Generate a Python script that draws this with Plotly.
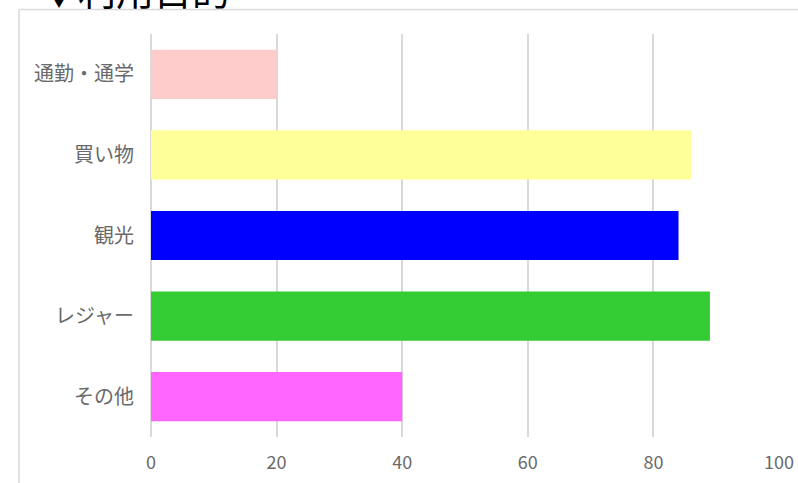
import plotly.graph_objects as go

# Purpose-of-use survey results
categories = ["通勤・通学", "買い物", "観光", "レジャー", "その他"]
values = [20, 86, 84, 89, 40]
bar_colors = ["#FFCCCC", "#FFFF99", "#0000FF", "#33CC33", "#FF66FF"]
x_ticks = [0, 20, 40, 60, 80, 100]

W, H = 798, 483
L, R, T, B = 151, 19, 34, 46
pw, ph = W - L - R, H - T - B


def px_x(px):
    return (px - L) / pw


def px_y(py):
    return (H - B - py) / ph


FONT = "Noto Sans CJK JP, Noto Sans, sans-serif"
GRID = "#D9D9D9"
TEXT = "#6A6A6A"

fig = go.Figure(
    go.Bar(
        x=values,
        y=categories,
        orientation="h",
        marker=dict(color=bar_colors, line=dict(width=0)),
        hoverinfo="x+y",
    )
)

fig.update_layout(
    width=W,
    height=H,
    margin=dict(l=L, r=R, t=T, b=B, autoexpand=False),
    paper_bgcolor="white",
    plot_bgcolor="white",
    showlegend=False,
    bargap=0.39,
    font=dict(family=FONT, color=TEXT),
    xaxis=dict(
        range=[0, 100],
        tickvals=x_ticks,
        automargin=False,
        showgrid=True,
        gridcolor=GRID,
        gridwidth=1.5,
        zeroline=True,
        zerolinecolor=GRID,
        zerolinewidth=1.5,
        showline=False,
        ticks="",
        ticklabelstandoff=13,
        tickfont=dict(size=18, color=TEXT, family=FONT),
        fixedrange=True,
    ),
    yaxis=dict(
        autorange="reversed",
        automargin=False,
        showgrid=False,
        zeroline=False,
        showline=False,
        ticks="",
        ticklabelstandoff=16,
        tickfont=dict(size=20, color=TEXT, family=FONT),
        fixedrange=True,
    ),
    shapes=[
        # chart frame (top and left edges)
        dict(type="line", xref="paper", yref="paper",
             x0=px_x(19), x1=px_x(W + 5), y0=px_y(9.5), y1=px_y(9.5),
             line=dict(color=GRID, width=1.5)),
        dict(type="line", xref="paper", yref="paper",
             x0=px_x(19), x1=px_x(19), y0=px_y(9.5), y1=px_y(H + 5),
             line=dict(color=GRID, width=1.5)),
    ],
    annotations=[
        dict(
            text="▼利用目的",
            xref="paper", yref="paper",
            x=px_x(38), y=px_y(18),
            xanchor="left", yanchor="bottom",
            showarrow=False,
            font=dict(size=38, color="#000000", family=FONT),
        )
    ],
)

fig.write_html("out.html")
